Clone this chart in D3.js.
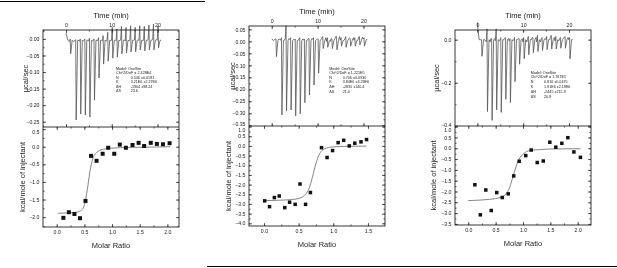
<!DOCTYPE html>
<html>
<head>
<meta charset="utf-8">
<script src="https://cdn.jsdelivr.net/npm/d3@7"></script>
<style>
  body { margin: 0; background: #fff; }
  svg { display: block; will-change: transform; }
  text { font-family: "Liberation Sans", Arial, sans-serif; fill: #222; }
</style>
</head>
<body>
<svg id="chart" width="617" height="268"></svg>
<script>
// injection times (min), shared by the three runs
var injTimes = [1.0, 2.2, 3.2, 4.2, 5.2, 6.2, 7.2, 8.2, 9.2, 10.2, 11.2, 12.2, 13.2, 14.2, 15.2, 16.2, 17.2, 18.2, 19.2, 20.2];

// raw heat traces (ucal/sec): peak minimum, spike top, level between peaks
var p1Peak = [-0.045, -0.245, -0.227, -0.230, -0.236, -0.185, -0.118, -0.076, -0.067, -0.058, -0.055, -0.045, -0.042, -0.039, -0.039, -0.033, -0.036, -0.033, -0.033, -0.027];
var p1Spike = [0.0, -0.002, 0.0, 0.0, 0.002, 0.0, 0.004, 0.01, 0.02, 0.035, 0.03, 0.038, 0.035, 0.04, 0.035, 0.04, 0.038, 0.042, 0.045, 0.04];
var p1Mid = [-0.008, -0.005, -0.006, -0.004, -0.006, -0.005, -0.004, -0.006, -0.005, -0.004, -0.005, -0.003, -0.006, -0.004, -0.003, -0.005, -0.004, -0.003, -0.002, -0.004];

var p2Peak = [-0.064, -0.307, -0.291, -0.286, -0.311, -0.302, -0.256, -0.224, -0.182, -0.133, -0.03, -0.025, -0.03, -0.035, -0.02, -0.025, -0.02, -0.02, -0.015, -0.02];
var p2Spike = [0.01, 0.015, 0.065, 0.015, 0.01, 0.015, 0.01, 0.012, 0.015, 0.01, 0.02, 0.015, 0.01, 0.02, 0.015, 0.02, 0.01, 0.015, 0.02, 0.015];
var p2Mid = [0.01, 0.005, 0.012, 0.008, 0.005, 0.01, 0.005, 0.012, 0.008, 0.01, 0.015, 0.0, 0.012, 0.02, 0.005, 0.01, 0.015, 0.005, 0.018, 0.01];

var p3Peak = [-0.077, -0.334, -0.375, -0.326, -0.338, -0.277, -0.292, -0.195, -0.114, -0.088, -0.07, -0.06, -0.055, -0.05, -0.046, -0.043, -0.043, -0.04, -0.04, -0.089];
var p3Spike = [0.0, 0.05, 0.005, 0.05, 0.01, 0.01, 0.005, 0.01, 0.005, 0.01, 0.015, 0.01, 0.02, 0.01, 0.015, 0.02, 0.015, 0.01, 0.015, 0.01];
var p3Mid = [0.0, -0.01, 0.005, -0.005, 0.0, 0.005, -0.005, 0.0, 0.005, -0.01, 0.0, 0.01, -0.01, 0.005, 0.0, 0.01, -0.005, 0.005, 0.01, 0.0];

// integrated heats (kcal/mole of injectant) vs molar ratio
var p1Ratio = [0.12, 0.22, 0.32, 0.42, 0.52, 0.62, 0.72, 0.83, 0.93, 1.04, 1.14, 1.25, 1.37, 1.48, 1.58, 1.70, 1.81, 1.92, 2.04];
var p1Heat = [-2.02, -1.86, -1.91, -2.03, -1.54, -0.26, -0.40, -0.20, -0.03, -0.20, 0.06, -0.03, 0.05, 0.11, 0.02, 0.11, 0.08, 0.07, 0.10];
var p1FitX = [0.02, 0.2, 0.35, 0.45, 0.5, 0.55, 0.6, 0.65, 0.7, 0.75, 0.85, 1.0, 1.3, 1.7, 2.05];
var p1FitY = [-1.89, -1.88, -1.86, -1.8, -1.65, -1.25, -0.7, -0.35, -0.2, -0.13, -0.07, -0.04, -0.02, -0.01, 0.0];

var p2Ratio = [0.01, 0.08, 0.15, 0.22, 0.30, 0.37, 0.45, 0.52, 0.60, 0.67, 0.83, 0.91, 0.99, 1.07, 1.15, 1.23, 1.31, 1.40, 1.48];
var p2Heat = [-2.84, -3.14, -2.67, -2.59, -3.19, -2.91, -3.02, -1.97, -3.02, -2.41, -0.09, -0.60, -0.24, 0.17, 0.29, 0.0, 0.14, 0.21, 0.33];
var p2FitX = [0.0, 0.2, 0.4, 0.5, 0.55, 0.6, 0.65, 0.7, 0.75, 0.8, 0.85, 0.9, 1.0, 1.2, 1.48];
var p2FitY = [-2.83, -2.81, -2.77, -2.72, -2.65, -2.5, -2.2, -1.6, -0.9, -0.42, -0.2, -0.11, -0.05, -0.02, -0.01];

var p3Ratio = [0.12, 0.22, 0.32, 0.42, 0.52, 0.62, 0.73, 0.83, 0.93, 1.05, 1.15, 1.26, 1.37, 1.49, 1.60, 1.71, 1.82, 1.93, 2.05];
var p3Heat = [-1.69, -3.08, -1.93, -2.88, -2.05, -2.28, -2.11, -1.28, -0.60, -0.34, -0.08, -0.66, -0.59, 0.28, 0.05, 0.23, 0.49, -0.17, -0.42];
var p3FitX = [0.0, 0.4, 0.6, 0.7, 0.75, 0.8, 0.85, 0.9, 0.95, 1.0, 1.1, 1.3, 1.6, 2.05];
var p3FitY = [-2.42, -2.36, -2.26, -2.08, -1.85, -1.46, -1.03, -0.66, -0.42, -0.28, -0.12, -0.06, -0.03, -0.02];

// tick labels
var timeTicks = [0, 10, 20];
var p1UpTicks = [0, -0.05, -0.1, -0.15, -0.2, -0.25];
var p2UpTicks = [0.05, 0, -0.05, -0.1, -0.15, -0.2, -0.25, -0.3, -0.35];
var p3UpTicks = [0, -0.2, -0.4];
var p1LowTicks = [0.5, 0, -0.5, -1, -1.5, -2];
var p2LowTicks = [1, 0.5, 0, -0.5, -1, -1.5, -2, -2.5, -3, -3.5, -4];
var p3LowTicks = [1, 0.5, 0, -0.5, -1, -1.5, -2, -2.5, -3, -3.5];
var p1RatioTicks = [0, 0.5, 1, 1.5, 2];
var p2RatioTicks = [0, 0.5, 1, 1.5];
var p3RatioTicks = [0, 0.5, 1, 1.5, 2];

// fit results
var p1Fit = ['Chi^2/DoF = 2.428E4', ['N', '0.546 \u00b10.0181'], ['K', '3.21E6 \u00b12.27E6'], ['\u0394H', '-1904 \u00b198.24'], ['\u0394S', '23.6']];
var p2Fit = ['Chi^2/DoF = 1.221E5', ['N', '0.706 \u00b10.0330'], ['K', '3.84E6 \u00b13.29E6'], ['\u0394H', '-2835 \u00b1140.4'], ['\u0394S', '21.0']];
var p3Fit = ['Chi^2/DoF = 1.767E5', ['N', '0.816 \u00b10.0475'], ['K', '1.91E6 \u00b12.19E6'], ['\u0394H', '-2445 \u00b1215.9'], ['\u0394S', '20.8']];

var svg = d3.select('#chart');
var ink = '#222';

var panels = [
    { left: 43, right: 179, top: 30, divider: 127, bottom: 227,
      timeDom: [-5.03, 24.7], upDom: [-0.266, 0.027], ratioDom: [-0.248, 2.21], lowDom: [-2.28, 0.56],
      peak: p1Peak, spike: p1Spike, mid: p1Mid, start: 0.018, base: -0.004,
      ratio: p1Ratio, heat: p1Heat, fitX: p1FitX, fitY: p1FitY,
      upTicks: p1UpTicks, upFmt: '.2f', upMinor: 0.025, lowTicks: p1LowTicks, ratioTicks: p1RatioTicks,
      fit: p1Fit, textX: 116, textX2: 130.7, textY: 69.6, textDy: 4.5, sq: 4,
      ylabX: 25, ylabX2: 22 },
    { left: 249, right: 385, top: 26, divider: 126, bottom: 226,
      timeDom: [-4.96, 24.7], upDom: [-0.353, 0.064], ratioDom: [-0.216, 1.746], lowDom: [-4.14, 1.03],
      peak: p2Peak, spike: p2Spike, mid: p2Mid, start: 0.01, base: 0.003,
      ratio: p2Ratio, heat: p2Heat, fitX: p2FitX, fitY: p2FitY,
      upTicks: p2UpTicks, upFmt: '.2f', upMinor: 0.025, lowTicks: p2LowTicks, ratioTicks: p2RatioTicks,
      fit: p2Fit, textX: 329.3, textX2: 342.7, textY: 69.6, textDy: 4.6, sq: 3.5,
      ylabX: 232, ylabX2: 228 },
    { left: 455, right: 591, top: 30, divider: 126, bottom: 225,
      timeDom: [-4.87, 24.8], upDom: [-0.401, 0.045], ratioDom: [-0.243, 2.243], lowDom: [-3.55, 1.03],
      peak: p3Peak, spike: p3Spike, mid: p3Mid, start: 0.08, base: 0.0,
      ratio: p3Ratio, heat: p3Heat, fitX: p3FitX, fitY: p3FitY,
      upTicks: p3UpTicks, upFmt: '.1f', upMinor: 0.1, lowTicks: p3LowTicks, ratioTicks: p3RatioTicks,
      fit: p3Fit, textX: 530.7, textX2: 544, textY: 73.6, textDy: 4.8, sq: 3.5,
      ylabX: 436, ylabX2: 433 }
];

function minorTicks(scale, step) {
    var d = scale.domain();
    var lo = Math.min(d[0], d[1]), hi = Math.max(d[0], d[1]);
    var out = [];
    for (var v = Math.ceil(lo / step) * step; v <= hi + 1e-9; v += step) out.push(+v.toFixed(6));
    return out;
}

function styleAxis(g) {
    g.select('.domain').remove();
    g.selectAll('line').attr('stroke', ink).attr('stroke-width', 0.7);
    g.selectAll('text').attr('font-size', 5.2).attr('fill', ink)
        .attr('font-family', '"Liberation Sans", Arial, sans-serif');
}

function addAxis(axisFn, scale, ticks, fmt, size, transform, showLabels) {
    var ax = axisFn(scale).tickValues(ticks).tickSizeInner(-size).tickSizeOuter(0).tickPadding(3.5);
    ax.tickFormat(showLabels ? d3.format(fmt) : '');
    return svg.append('g').attr('transform', transform).call(ax).call(styleAxis);
}

function title(x, y, str, rotate) {
    var t = svg.append('text')
        .attr('text-anchor', 'middle')
        .attr('font-size', 7.5)
        .attr('fill', ink)
        .text(str);
    if (rotate) t.attr('transform', 'translate(' + x + ',' + y + ') rotate(-90)').attr('dy', '0.35em');
    else t.attr('x', x).attr('y', y);
}

panels.forEach(function(p) {
    var xt = d3.scaleLinear().domain(p.timeDom).range([p.left, p.right]);
    var yu = d3.scaleLinear().domain(p.upDom).range([p.divider, p.top]);
    var xr = d3.scaleLinear().domain(p.ratioDom).range([p.left, p.right]);
    var yl = d3.scaleLinear().domain(p.lowDom).range([p.bottom, p.divider]);

    // raw trace
    var pts = [[0, p.start], [0.4, p.base]];
    injTimes.forEach(function(t, i) {
        pts.push([t - 0.25, p.mid[i]]);
        pts.push([t - 0.08, p.spike[i]]);
        pts.push([t + 0.02, p.peak[i]]);
        pts.push([t + 0.35, p.base]);
        pts.push([t + 0.6, p.mid[i]]);
    });
    var line = d3.line()
        .x(function(d) { return xt(d[0]); })
        .y(function(d) { return yu(d[1]); });
    svg.append('path')
        .datum(pts)
        .attr('d', line)
        .attr('fill', 'none')
        .attr('stroke', '#555')
        .attr('stroke-width', 0.8)
        .attr('stroke-linejoin', 'round');

    // fit curve
    var fitLine = d3.line()
        .x(function(d) { return xr(d[0]); })
        .y(function(d) { return yl(d[1]); })
        .curve(d3.curveMonotoneX);
    svg.append('path')
        .datum(p.fitX.map(function(x, i) { return [x, p.fitY[i]]; }))
        .attr('d', fitLine)
        .attr('fill', 'none')
        .attr('stroke', '#777')
        .attr('stroke-width', 0.9);

    // integrated heats
    svg.append('g').selectAll('rect')
        .data(p.ratio)
        .join('rect')
        .attr('x', function(d) { return xr(d) - p.sq / 2; })
        .attr('y', function(d, i) { return yl(p.heat[i]) - p.sq / 2; })
        .attr('width', p.sq)
        .attr('height', p.sq)
        .attr('fill', '#111');

    // frames
    svg.append('rect')
        .attr('x', p.left).attr('y', p.top)
        .attr('width', p.right - p.left).attr('height', p.bottom - p.top)
        .attr('fill', 'none').attr('stroke', ink).attr('stroke-width', 0.9);
    svg.append('line')
        .attr('x1', p.left).attr('x2', p.right)
        .attr('y1', p.divider).attr('y2', p.divider)
        .attr('stroke', ink).attr('stroke-width', 0.9);

    // time axis (top) and mirror at divider
    addAxis(d3.axisTop, xt, timeTicks, 'd', 3, 'translate(0,' + p.top + ')', true);
    addAxis(d3.axisTop, xt, minorTicks(xt, 5), 'd', 1.6, 'translate(0,' + p.top + ')', false);
    addAxis(d3.axisBottom, xt, minorTicks(xt, 5), 'd', 1.6, 'translate(0,' + p.divider + ')', false);
    addAxis(d3.axisBottom, xt, timeTicks, 'd', 3, 'translate(0,' + p.divider + ')', false);

    // upper y axes; the label sitting on the divider is nudged up a little
    var lowEdge = d3.min(p.upTicks);
    addAxis(d3.axisLeft, yu, p.upTicks, p.upFmt, 3, 'translate(' + p.left + ',0)', true)
        .selectAll('.tick text')
        .filter(function(d) { return d === lowEdge && yu(d) > p.divider - 3; })
        .attr('dy', '0.05em');
    addAxis(d3.axisLeft, yu, minorTicks(yu, p.upMinor), p.upFmt, 1.6, 'translate(' + p.left + ',0)', false);
    addAxis(d3.axisRight, yu, p.upTicks, p.upFmt, 3, 'translate(' + p.right + ',0)', false);
    addAxis(d3.axisRight, yu, minorTicks(yu, p.upMinor), p.upFmt, 1.6, 'translate(' + p.right + ',0)', false);

    // lower y axes; the label sitting on the divider is nudged down a little
    var topEdge = d3.max(p.lowTicks);
    addAxis(d3.axisLeft, yl, p.lowTicks, '.1f', 3, 'translate(' + p.left + ',0)', true)
        .selectAll('.tick text')
        .filter(function(d) { return d === topEdge && yl(d) < p.divider + 3; })
        .attr('dy', '0.85em');
    addAxis(d3.axisLeft, yl, minorTicks(yl, 0.25), '.1f', 1.6, 'translate(' + p.left + ',0)', false);
    addAxis(d3.axisRight, yl, p.lowTicks, '.1f', 3, 'translate(' + p.right + ',0)', false);
    addAxis(d3.axisRight, yl, minorTicks(yl, 0.25), '.1f', 1.6, 'translate(' + p.right + ',0)', false);

    // molar ratio axes
    addAxis(d3.axisBottom, xr, p.ratioTicks, '.1f', 3, 'translate(0,' + p.bottom + ')', true);
    addAxis(d3.axisBottom, xr, minorTicks(xr, 0.25), '.1f', 1.6, 'translate(0,' + p.bottom + ')', false);
    addAxis(d3.axisTop, xr, p.ratioTicks, '.1f', 3, 'translate(0,' + p.divider + ')', false);
    addAxis(d3.axisTop, xr, minorTicks(xr, 0.25), '.1f', 1.6, 'translate(0,' + p.divider + ')', false);

    // axis titles
    var cx = (p.left + p.right) / 2;
    title(cx, p.top - 12.5, 'Time (min)');
    title(cx, p.bottom + 20.5, 'Molar Ratio');
    title(p.ylabX, (p.top + p.divider) / 2, '\u00b5cal/sec', true);
    title(p.ylabX2, (p.divider + p.bottom) / 2, 'kcal/mole of injectant', true);

    // fit results text
    var tg = svg.append('g').attr('font-size', 3.7).attr('fill', ink);
    tg.append('text').attr('x', p.textX).attr('y', p.textY).text('Model: OneSite');
    tg.append('text').attr('x', p.textX).attr('y', p.textY + p.textDy).text(p.fit[0]);
    p.fit.slice(1).forEach(function(row, i) {
        var y = p.textY + p.textDy * (i + 2);
        tg.append('text').attr('x', p.textX).attr('y', y).text(row[0]);
        tg.append('text').attr('x', p.textX2).attr('y', y).text(row[1]);
    });
});

// page rules from the source document
svg.append('line').attr('x1', 0).attr('x2', 205).attr('y1', 1.5).attr('y2', 1.5)
    .attr('stroke', '#000').attr('stroke-width', 1.2);
svg.append('line').attr('x1', 207).attr('x2', 617).attr('y1', 266.5).attr('y2', 266.5)
    .attr('stroke', '#000').attr('stroke-width', 1.2);
</script>
</body>
</html>
